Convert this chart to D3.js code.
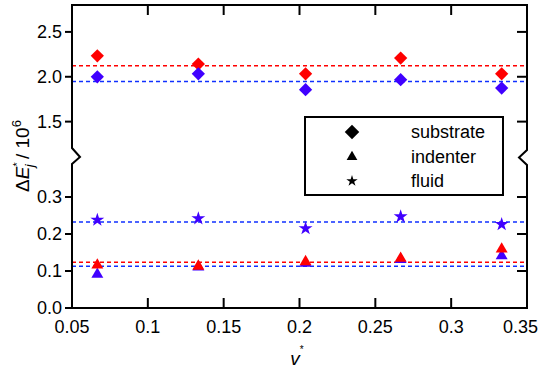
<!DOCTYPE html>
<html>
<head>
<meta charset="utf-8">
<script src="https://cdn.jsdelivr.net/npm/d3@7"></script>
<style>
  body { margin: 0; background: white; }
  text { font-family: "Liberation Sans", Arial, sans-serif; fill: black; }
</style>
</head>
<body>
<svg id="chart" width="540" height="369"></svg>
<script>
// data
var nu = [0.0667, 0.1333, 0.204, 0.2667, 0.3333];

var substrateRed  = [2.233, 2.141, 2.033, 2.208, 2.033];
var substrateBlue = [2.000, 2.033, 1.856, 1.967, 1.874];
var indenterRed   = [0.116, 0.113, 0.125, 0.134, 0.159];
var indenterBlue  = [0.091, 0.111, 0.121, 0.131, 0.141];
var fluidBlue     = [0.238, 0.242, 0.215, 0.247, 0.226];

var meanUpper = {red: 2.122, blue: 1.948};
var meanLower = {red: 0.1235, blue: 0.1127, fluid: 0.2324};

var xTicks = [0.05, 0.1, 0.15, 0.2, 0.25, 0.3, 0.35];
var yTicksUpper = [1.5, 2.0, 2.5];
var yTicksLower = [0.0, 0.1, 0.2, 0.3];
var legendItems = ["substrate", "indenter", "fluid"];

var red = "#ff0000", blue = "#4000ff", blueLine = "#1030ff";

var svg = d3.select("#chart");
var pL = 72, pR = 527, pT = 5, pB = 308;

var x = d3.scaleLinear().domain([0.05, 0.35]).range([pL, pR]);
var yUp = d3.scaleLinear().domain([1.1, 2.8]).range([157.5, pT]);
var yLo = d3.scaleLinear().domain([0, 0.41]).range([pB, 156.3]);

// dashed mean lines
function hline(y, color) {
  svg.append("line")
    .attr("x1", pL).attr("x2", pR)
    .attr("y1", y).attr("y2", y)
    .attr("stroke", color).attr("stroke-width", 1.4)
    .attr("stroke-dasharray", "4,3");
}
hline(yUp(meanUpper.red), red);
hline(yUp(meanUpper.blue), blueLine);
hline(yLo(meanLower.fluid), blueLine);
hline(yLo(meanLower.red), red);
hline(yLo(meanLower.blue), blueLine);

var diamond = d3.symbol().type(d3.symbolSquare).size(88)();
var triangle = d3.symbol().type(d3.symbolTriangle).size(62)();
var star = d3.symbol().type(d3.symbolStar).size(60)();

function points(vals, yScale, path, color, rot) {
  svg.append("g").selectAll("path")
    .data(vals)
    .enter().append("path")
    .attr("d", path)
    .attr("fill", color)
    .attr("transform", (d, i) => "translate(" + x(nu[i]) + "," + yScale(d) + ")" + (rot ? " rotate(45)" : ""));
}
points(fluidBlue, yLo, star, blue, false);
points(indenterBlue, yLo, triangle, blue, false);
points(indenterRed, yLo, triangle, red, false);
points(substrateRed, yUp, diamond, red, true);
points(substrateBlue, yUp, diamond, blue, true);

// frame with break marks
var frame = svg.append("g").attr("fill", "none").attr("stroke", "black").attr("stroke-width", 2);
frame.append("path").attr("d",
  "M" + pL + "," + pT + " L" + pR + "," + pT);
frame.append("path").attr("d",
  "M" + pL + "," + pB + " L" + pR + "," + pB);
frame.append("path").attr("d",
  "M" + pL + "," + (pT - 1) + " L" + pL + ",148 L" + (pL + 8) + ",157 L" + pL + ",164 L" + pL + "," + (pB + 1));
frame.append("path").attr("d",
  "M" + pR + "," + (pT - 1) + " L" + pR + ",150 L" + (pR - 8) + ",157.5 L" + pR + ",165 L" + pR + "," + (pB + 1));

// ticks
var inner = xTicks.slice(1, -1);
inner.forEach(function(t) {
  frame.append("line").attr("x1", x(t)).attr("x2", x(t)).attr("y1", pB).attr("y2", pB - 10);
  frame.append("line").attr("x1", x(t)).attr("x2", x(t)).attr("y1", pT).attr("y2", pT + 10);
});
function yTick(y, onRight) {
  frame.append("line").attr("x1", pL - 7).attr("x2", pL).attr("y1", y).attr("y2", y);
  if (onRight) frame.append("line").attr("x1", pR - 10).attr("x2", pR).attr("y1", y).attr("y2", y);
}
yTicksUpper.forEach(t => yTick(yUp(t), true));
yTicksLower.forEach(t => yTick(yLo(t), t > 0));

// tick labels
var fmtY = d3.format(".1f");
var yLabels = yTicksUpper.map(t => ({v: t, y: yUp(t)}))
  .concat(yTicksLower.map(t => ({v: t, y: yLo(t)})));
svg.append("g").selectAll("text")
  .data(yLabels)
  .enter().append("text")
  .attr("x", pL - 10).attr("y", d => d.y)
  .attr("dy", "0.36em")
  .attr("text-anchor", "end")
  .style("font-size", "18px")
  .text(d => fmtY(d.v));

var nX = xTicks.length;
svg.append("g").selectAll("text")
  .data(xTicks)
  .enter().append("text")
  .attr("x", (d, i) => i === nX - 1 ? 538 : x(d)).attr("y", pB + 25)
  .attr("text-anchor", (d, i) => i === nX - 1 ? "end" : "middle")
  .style("font-size", "18px")
  .text(d => d3.format("~g")(d));

// axis titles
var yt = svg.append("text")
  .attr("transform", "translate(29,156) rotate(-90)")
  .attr("text-anchor", "middle")
  .style("font-size", "19px");
yt.append("tspan").text("\u0394");
yt.append("tspan").style("font-style", "italic").text("E");
yt.append("tspan").attr("dy", "-8").style("font-size", "11px").text("*");
yt.append("tspan").attr("dx", "-5").attr("dy", "13").style("font-size", "13px").style("font-style", "italic").text("j");
yt.append("tspan").attr("dy", "-5").text(" / 10");
yt.append("tspan").attr("dy", "-8").style("font-size", "13px").text("6");

var xt = svg.append("text")
  .attr("x", 297).attr("y", 365)
  .attr("text-anchor", "middle")
  .style("font-size", "19px");
xt.append("tspan").style("font-style", "italic").text("v");
xt.append("tspan").attr("dy", "-12").style("font-size", "10px").text("*");

// legend
var lg = svg.append("g");
lg.append("rect")
  .attr("x", 305).attr("y", 117).attr("width", 198).attr("height", 78)
  .attr("fill", "white").attr("stroke", "black").attr("stroke-width", 2);
var legShapes = [
  d3.symbol().type(d3.symbolSquare).size(105)(),
  d3.symbol().type(d3.symbolTriangle).size(50)(),
  d3.symbol().type(d3.symbolStar).size(40)()
];
var rowY = [132, 157, 181];
legendItems.forEach(function(name, i) {
  lg.append("path").attr("d", legShapes[i]).attr("fill", "black")
    .attr("transform", "translate(352," + rowY[i] + ")" + (i === 0 ? " rotate(45)" : ""));
  lg.append("text").attr("x", 411).attr("y", rowY[i]).attr("dy", "0.36em")
    .style("font-size", "18px").text(name);
});
</script>
</body>
</html>
